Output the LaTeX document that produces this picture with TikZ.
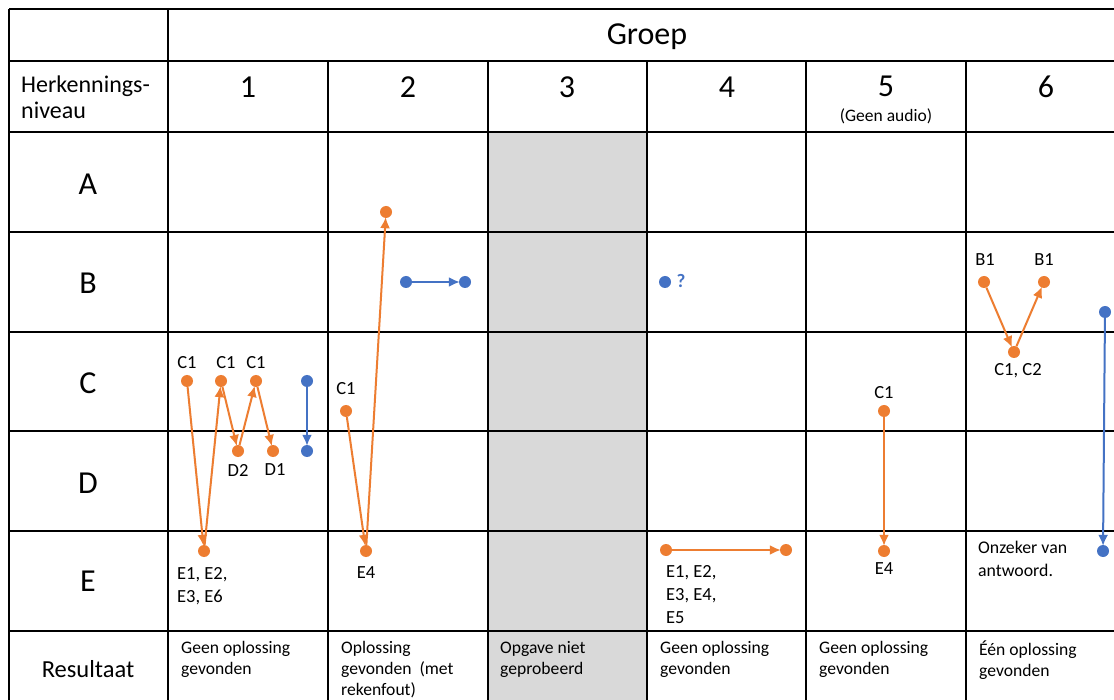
\documentclass[tikz,border=0pt]{standalone}
\usepackage{fontspec}
\setmainfont{Carlito}
\usetikzlibrary{arrows.meta}
\definecolor{org}{HTML}{ED7D31}
\definecolor{blu}{HTML}{4472C4}
\definecolor{gry}{HTML}{D9D9D9}
\begin{document}
\begin{tikzpicture}[x=1pt,y=-1pt,
  gridline/.style={line width=1.6pt, black},
  od/.style={circle, fill=org, inner sep=0pt, minimum size=12pt},
  bd/.style={circle, fill=blu, inner sep=0pt, minimum size=12pt},
  oa/.style={draw=org, line width=2pt, -{Latex[length=11pt,width=10pt]}, shorten >=-1pt},
  ba/.style={draw=blu, line width=2pt, -{Latex[length=11pt,width=10pt]}, shorten >=-1pt},
  lab/.style={font=\fontsize{18.5}{23}\selectfont, inner sep=0pt},
  res/.style={font=\fontsize{17.6}{21}\selectfont, inner sep=0pt, anchor=north west, align=left},
  big/.style={font=\fontsize{32}{36}\selectfont, inner sep=0pt},
  mid/.style={font=\fontsize{24.5}{27}\selectfont, inner sep=0pt}
]
\useasboundingbox (0,0) rectangle (1114,700);
\fill[white] (0,0) rectangle (1114,700);
% gray column
\fill[gry] (488,132) rectangle (647,700);
% grid
\draw[gridline] (9,9) -- (1114,9);
\foreach \y in {61,132,232,332,431,531,631} \draw[gridline] (9,\y) -- (1114,\y);
\draw[gridline] (9,9) -- (9,700);
\draw[gridline] (168,9) -- (168,700);
\foreach \x in {328,488,647,806,966} \draw[gridline] (\x,61) -- (\x,700);

% headers
\node[big] (groep) at (647,37) {Groep};
\node[mid, anchor=west, align=left, font=\fontsize{24}{26}\selectfont] (herk) at (21,97) {Herkennings-\\niveau};
\node[big] (g1) at (248,87) {1};
\node[big] (g2) at (408,87) {2};
\node[big] (g3) at (567,87) {3};
\node[big] (g4) at (727,87) {4};
\node[big] (g5) at (886,86) {5};
\node[font=\fontsize{17.5}{18}\selectfont, inner sep=0pt] (ga) at (886,116) {(Geen audio)};
\node[big] (g6) at (1046,87) {6};
\node[big] (ra) at (88,184) {A};
\node[big] (rb) at (88,283) {B};
\node[big] (rc) at (88,383) {C};
\node[big] (rd) at (88,483) {D};
\node[big] (re) at (88,581) {E};
\node[mid] (rr) at (88,669) {Resultaat};

% results
\node[res] (res1) at (181,641) {Geen oplossing\\gevonden};
\node[res] (res2) at (341,641) {Oplossing\\gevonden\ \ (met\\rekenfout)};
\node[res] (res3) at (500,641) {Opgave niet\\geprobeerd};
\node[res] (res4) at (660,641) {Geen oplossing\\gevonden};
\node[res] (res5) at (819,641) {Geen oplossing\\gevonden};
\node[res] (res6) at (979,641) {Één oplossing\\gevonden};

% group 1
\node[od] (a1) at (187,381) {};
\node[od] (a2) at (221,381) {};
\node[od] (a3) at (256,381) {};
\node[od] (d2) at (238,451) {};
\node[od] (d1) at (273,451) {};
\node[od] (e1) at (204,551) {};
\node[bd] (b1t) at (307,381) {};
\node[bd] (b1b) at (307,451) {};
\node[lab] (la1) at (187,363) {C1};
\node[lab] (la2) at (226,363) {C1};
\node[lab] (la3) at (256,363) {C1};
\node[lab] (ld2) at (238,470) {D2};
\node[lab] (ld1) at (275,470) {D1};
\node[lab, anchor=north west, align=left] (le1) at (177,567) {E1, E2,\\E3, E6};
\draw[oa] (a1) -- (e1);
\draw[oa] (e1) -- (a2);
\draw[oa] (a2) -- (d2);
\draw[oa] (d2) -- (a3);
\draw[oa] (a3) -- (d1);
\draw[ba] (b1t) -- (b1b);

% group 2
\node[od] (c2) at (346,411) {};
\node[od] (e2) at (366,551) {};
\node[od] (t2) at (386,212) {};
\node[lab] (lc2) at (346,389) {C1};
\node[lab] (le2) at (366,573) {E4};
\draw[oa] (c2) -- (e2);
\draw[oa] (e2) -- (t2);
\node[bd] (b2a) at (406,282) {};
\node[bd] (b2b) at (465,282) {};
\draw[ba] (b2a) -- (b2b);

% group 4
\node[bd] (b4) at (665,282) {};
\node[lab, text=blu, font=\fontsize{19}{23}\selectfont\bfseries] (q4) at (681,281) {?};
\node[od] (e4a) at (666,550) {};
\node[od] (e4b) at (786,550) {};
\draw[oa] (e4a) -- (e4b);
\node[lab, anchor=north west, align=left] (le4) at (666,565) {E1, E2,\\E3, E4,\\E5};

% group 5
\node[od] (c5) at (884,411) {};
\node[od] (e5) at (884,551) {};
\node[lab] (lc5) at (884,393) {C1};
\node[lab] (le5) at (884,569) {E4};
\draw[oa] (c5) -- (e5);

% group 6
\node[od] (b6a) at (984,282) {};
\node[od] (b6b) at (1044,282) {};
\node[od] (c6) at (1014,352) {};
\node[lab] (lb6a) at (985,260) {B1};
\node[lab] (lb6b) at (1044,260) {B1};
\node[lab] (lc6) at (1018,371) {C1, C2};
\draw[oa] (b6a) -- (c6);
\draw[oa] (c6) -- (b6b);
\node[bd] (b6t) at (1105,312) {};
\node[bd] (b6e) at (1103,551) {};
\draw[ba] (b6t) -- (b6e);
\node[lab, anchor=north west, align=left, font=\fontsize{17.8}{23}\selectfont] (on6) at (978,541) {Onzeker van\\antwoord.};
\end{tikzpicture}
\end{document}
